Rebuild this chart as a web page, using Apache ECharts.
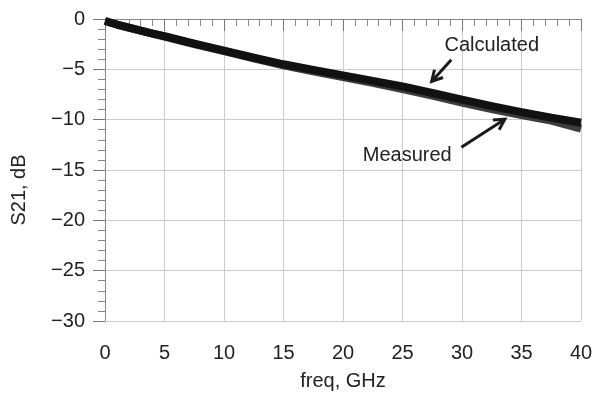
<!DOCTYPE html>
<html>
<head>
<meta charset="utf-8">
<script src="https://cdn.jsdelivr.net/npm/echarts@6/dist/echarts.min.js"></script>
<style>
  html, body { margin: 0; padding: 0; background: #fff; }
  #chart { width: 606px; height: 396px; }
</style>
</head>
<body>
<div id="chart"></div>
<script>
// frequency points, GHz
const freq = [0, 1, 2, 3, 4, 5, 7.5, 10, 12.5, 15, 17.5, 20, 22.5, 25, 27.5, 30, 32.5, 35, 37.5, 40];
// S21 in dB
const calculated = [-0.2, -0.55, -0.85, -1.15, -1.45, -1.7, -2.45, -3.15, -3.85, -4.5, -5.05, -5.6, -6.15, -6.7, -7.35, -8.0, -8.65, -9.25, -9.8, -10.3];
const measured = [-0.2, -0.55, -0.85, -1.15, -1.45, -1.75, -2.5, -3.2, -3.9, -4.6, -5.2, -5.77, -6.35, -6.95, -7.6, -8.3, -8.95, -9.55, -10.1, -10.9];

// annotation anchors in data units: [freq, dB]
const calcLabel = [32.5, -2.6];
const calcArrow = [[29.1, -4.05], [27.45, -6.2]];
const measLabel = [25.4, -13.6];
const measArrow = [[29.95, -12.75], [33.6, -9.95]];

const font = 'Liberation Sans, Arial, sans-serif';
const textColor = '#222';

const chart = echarts.init(document.getElementById('chart'));

const pairs = (xs, ys) => xs.map((x, i) => [x, ys[i]]);

chart.setOption({
  animation: false,
  grid: { left: 105, right: 25, top: 19, bottom: 73 },
  xAxis: {
    type: 'value',
    min: 0, max: 40, interval: 5,
    name: 'freq, GHz',
    nameLocation: 'middle',
    nameGap: 50,
    nameTextStyle: { color: textColor, fontSize: 20, fontFamily: font },
    axisLine: { lineStyle: { color: '#888', width: 1 } },
    axisTick: { show: true, length: 12, lineStyle: { color: '#777' } },
    minorTick: { show: true, splitNumber: 5, length: 7, lineStyle: { color: '#888' } },
    axisLabel: { color: textColor, fontSize: 20, fontFamily: font, margin: 22 },
    splitLine: { show: true, lineStyle: { color: '#ccc', width: 1 } }
  },
  yAxis: {
    type: 'value',
    min: -30, max: 0, interval: 5,
    name: 'S21, dB',
    nameLocation: 'middle',
    nameGap: 76,
    nameTextStyle: { color: textColor, fontSize: 20, fontFamily: font, padding: [0, 40, 0, 0] },
    axisLine: { show: true, lineStyle: { color: '#888', width: 1 } },
    axisTick: { show: true, length: 12, lineStyle: { color: '#777' } },
    minorTick: { show: true, splitNumber: 5, length: 7, lineStyle: { color: '#888' } },
    axisLabel: {
      color: textColor, fontSize: 20, fontFamily: font, margin: 20,
      formatter: v => (v < 0 ? '\u2212' + Math.abs(v) : String(v))
    },
    splitLine: { show: true, lineStyle: { color: '#ccc', width: 1 } }
  },
  series: [
    {
      name: 'Measured',
      type: 'line',
      data: pairs(freq, measured),
      showSymbol: false,
      lineStyle: { color: '#3c3c3c', width: 8, cap: 'butt', join: 'round' },
      z: 2
    },
    {
      name: 'Calculated',
      type: 'line',
      data: pairs(freq, calculated),
      showSymbol: false,
      lineStyle: { color: '#111', width: 8, cap: 'butt', join: 'round' },
      z: 3
    }
  ]
});

// annotations placed from data coordinates
const px = p => chart.convertToPixel({ gridIndex: 0 }, p);

function arrow(from, to) {
  const a = px(from), b = px(to);
  const ang = Math.atan2(b[1] - a[1], b[0] - a[0]);
  const h = 12, spread = 0.5;
  const l = [b[0] - h * Math.cos(ang - spread), b[1] - h * Math.sin(ang - spread)];
  const r = [b[0] - h * Math.cos(ang + spread), b[1] - h * Math.sin(ang + spread)];
  return [
    { type: 'line', shape: { x1: a[0], y1: a[1], x2: b[0], y2: b[1] },
      style: { stroke: '#1a1a1a', lineWidth: 3 }, z: 10 },
    { type: 'polyline', shape: { points: [l, b, r] },
      style: { stroke: '#1a1a1a', lineWidth: 3, fill: null }, z: 10 }
  ];
}

function label(p, text) {
  const q = px(p);
  return { type: 'text', x: q[0], y: q[1], z: 10,
    style: { text: text, fill: textColor, font: '20px ' + font, align: 'center', verticalAlign: 'middle' } };
}

chart.setOption({
  graphic: [
    label(calcLabel, 'Calculated'),
    ...arrow(calcArrow[0], calcArrow[1]),
    label(measLabel, 'Measured'),
    ...arrow(measArrow[0], measArrow[1])
  ]
});
</script>
</body>
</html>
